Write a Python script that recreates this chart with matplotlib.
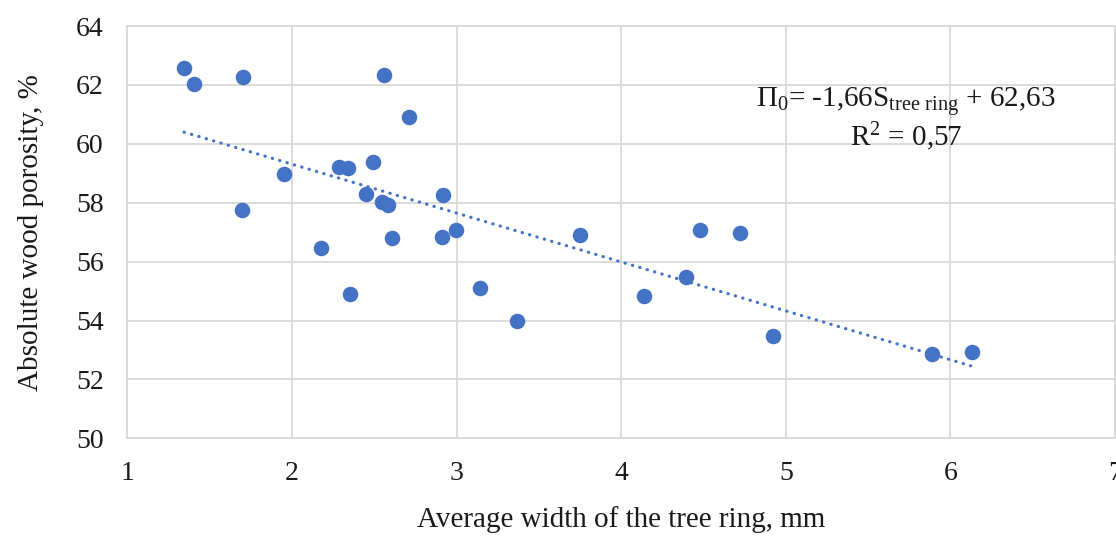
import numpy as np
import matplotlib
matplotlib.use("Agg")
from matplotlib import pyplot as plt

# average width of the tree ring, mm
ring_width = [1.345, 1.404, 1.703, 2.56, 2.71, 1.954, 2.283, 2.342, 2.49, 2.453,
              2.55, 2.584, 2.915, 1.697, 2.174, 2.61, 2.91, 2.998, 2.354, 3.144,
              3.368, 3.75, 4.138, 4.392, 4.48, 4.725, 4.925, 5.89, 6.13]
# absolute wood porosity, %
porosity = [62.56, 62.02, 62.28, 62.34, 60.9, 58.99, 59.22, 59.19, 59.39, 58.31,
            58.02, 57.91, 58.27, 57.74, 56.45, 56.79, 56.84, 57.08, 54.89, 55.12,
            54.0, 56.9, 54.82, 55.47, 57.07, 56.98, 53.46, 52.88, 52.95]

# trendline as printed on the chart
slope, intercept = -1.66, 62.63
x_ticks = [1, 2, 3, 4, 5, 6, 7]
y_ticks = [50, 52, 54, 56, 58, 60, 62, 64]

BLUE = "#4472C4"
GRID = "#D9D9D9"

plt.rcParams["font.family"] = ["Liberation Serif", "DejaVu Serif"]
plt.rcParams["mathtext.fontset"] = "custom"
plt.rcParams["mathtext.rm"] = "Liberation Serif"
plt.rcParams["mathtext.it"] = "Liberation Serif"

fig = plt.figure(figsize=(11.16, 5.36), dpi=100)
ax = fig.add_axes([127.3 / 1116, (536 - 438.4) / 536, (1115 - 127.3) / 1116, (438.4 - 26) / 536])

ax.scatter(ring_width, porosity, s=125, color=BLUE, zorder=3, linewidths=0)

xs = np.array([min(ring_width), max(ring_width)])
ax.plot(xs, slope * xs + intercept, color=BLUE, lw=2.3, linestyle=(0, (0.1, 2.3)),
        dash_capstyle="round", zorder=2)

ax.set_xlim(1, 7)
ax.set_ylim(50, 64)
ax.set_xticks(x_ticks)
ax.set_yticks(y_ticks)
ax.grid(True, color=GRID, lw=1.3)
ax.set_axisbelow(True)
for sp in ax.spines.values():
    sp.set_color(GRID)
    sp.set_linewidth(1.3)
ax.tick_params(length=0, labelsize=20, colors="#1a1a1a")
ax.tick_params(axis="x", pad=16)
ax.tick_params(axis="y", pad=17)

ax.set_xlabel("Average width of the tree ring, mm", fontsize=21, color="#1a1a1a")
ax.set_ylabel("Absolute wood porosity, %", fontsize=21, color="#1a1a1a")
ax.xaxis.set_label_coords(0.5, -0.165)
ax.yaxis.set_label_coords(-0.084, 0.5)

ax.text(5.73, 61.42, "\u03a0$_{0}$= -1,66S$_{\\mathrm{tree\\ ring}}$ + 62,63",
        fontsize=21, ha="center", va="center", color="#1a1a1a")
ax.text(5.73, 60.23, "R$^{2}$ = 0,57", fontsize=21, ha="center", va="center",
        color="#1a1a1a")

fig.savefig("out.png", dpi=100)
